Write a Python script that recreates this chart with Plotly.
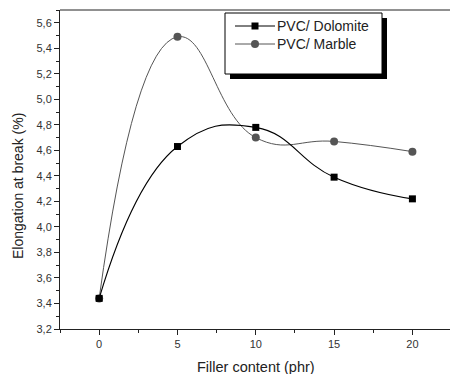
import plotly.graph_objects as go

filler = [0, 5, 10, 15, 20]
dolomite = [3.44, 4.63, 4.78, 4.39, 4.22]
marble = [3.44, 5.49, 4.70, 4.67, 4.59]
legend_names = ["PVC/ Dolomite", "PVC/ Marble"]

L, R, T, B = 60, 0, 10, 45
W, H = 450, 374
pw, ph = W - L - R, H - T - B

def px(x):
    return (x - L) / pw

def py(y):
    return (H - B - y) / ph

fig = go.Figure()
fig.add_trace(go.Scatter(x=filler, y=marble, name=legend_names[1], mode="lines+markers",
                         line=dict(color="#555555", width=1, shape="spline", smoothing=1.3),
                         marker=dict(symbol="circle", size=8, color="#555555")))
fig.add_trace(go.Scatter(x=filler, y=dolomite, name=legend_names[0], mode="lines+markers",
                         line=dict(color="#000000", width=1.1, shape="spline", smoothing=1.3),
                         marker=dict(symbol="square", size=7, color="#000000")))

shapes = [
    dict(type="rect", xref="paper", yref="paper", x0=px(230), x1=px(387), y0=py(79), y1=py(18),
         fillcolor="black", line=dict(width=0), layer="above"),
    dict(type="rect", xref="paper", yref="paper", x0=px(225), x1=px(382), y0=py(74), y1=py(13),
         fillcolor="white", line=dict(color="black", width=1), layer="above"),
    dict(type="line", xref="paper", yref="paper", x0=0, x1=1, y0=1, y1=1,
         line=dict(color="#222", width=1)),
    dict(type="line", xref="paper", yref="paper", x0=px(235), x1=px(275), y0=py(26), y1=py(26),
         line=dict(color="black", width=1), layer="above"),
    dict(type="rect", xref="paper", yref="paper", x0=px(251.5), x1=px(258.5), y0=py(29.5), y1=py(22.5),
         fillcolor="black", line=dict(width=0), layer="above"),
    dict(type="line", xref="paper", yref="paper", x0=px(235), x1=px(275), y0=py(44), y1=py(44),
         line=dict(color="#555555", width=1), layer="above"),
    dict(type="circle", xref="paper", yref="paper", x0=px(251), x1=px(259), y0=py(48), y1=py(40),
         fillcolor="#555555", line=dict(width=0), layer="above"),
]

annotations = [
    dict(text=legend_names[0], xref="paper", yref="paper", x=px(275), y=py(26), xanchor="left",
         yanchor="middle", showarrow=False, font=dict(size=14, color="#222")),
    dict(text=legend_names[1], xref="paper", yref="paper", x=px(275), y=py(44), xanchor="left",
         yanchor="middle", showarrow=False, font=dict(size=14, color="#222")),
    dict(text="Filler content (phr)", xref="paper", yref="paper", x=px(256), y=py(367),
         xanchor="center", yanchor="middle", showarrow=False, font=dict(size=14.5, color="#222")),
    dict(text="Elongation at break (%)", xref="paper", yref="paper", x=px(18), y=py(186),
         xanchor="center", yanchor="middle", textangle=-90, showarrow=False,
         font=dict(size=14, color="#222")),
]

fig.update_layout(
    width=W, height=H,
    margin=dict(l=L, r=R, t=T, b=B),
    paper_bgcolor="white", plot_bgcolor="white",
    separators=", ",
    font=dict(family="Liberation Sans, Arial", size=11, color="#333333"),
    shapes=shapes,
    annotations=annotations,
    showlegend=False,
    xaxis=dict(range=[-2.5, 22.4], tickvals=[0, 5, 10, 15, 20], ticks="outside", ticklen=5,
               tickcolor="#222", showline=True, linecolor="#222", linewidth=1, mirror=False,
               showgrid=False, zeroline=False,
               minor=dict(tickvals=[-2.5, 2.5, 7.5, 12.5, 17.5, 22.5], ticks="outside", ticklen=3, tickcolor="#222"),
               tickfont=dict(size=11)),
    yaxis=dict(range=[3.2, 5.7], dtick=0.2, tick0=3.2, tickformat=".1f", ticks="outside", ticklen=5,
               tickcolor="#222", showline=True, linecolor="#222", linewidth=1,
               showgrid=False, zeroline=False,
               minor=dict(dtick=0.1, ticks="outside", ticklen=3, tickcolor="#222"),
               tickfont=dict(size=11)),
)

fig.write_html("out.html")
